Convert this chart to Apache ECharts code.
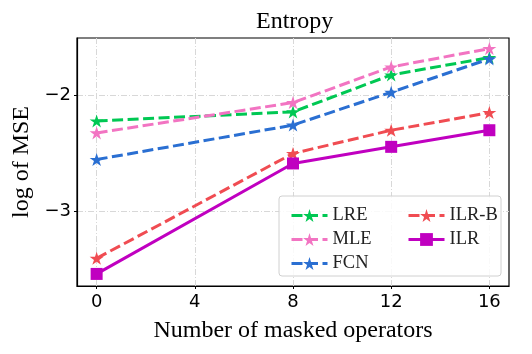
<!DOCTYPE html>
<html>
<head>
<meta charset="utf-8">
<script src="https://cdn.jsdelivr.net/npm/echarts@6/dist/echarts.min.js"></script>
<style>
  html, body { margin: 0; padding: 0; background: #fff; }
  #chart { width: 532px; height: 354px; }
</style>
</head>
<body>
<div id="chart"></div>
<script>
// masked operators on x, log(MSE) on y
const operators = [0, 8, 12, 16];
const xTicks = [0, 4, 8, 12, 16];
const yTicks = [-3, -2];

const lre = [-2.224, -2.146, -1.828, -1.678];
const mle = [-2.327, -2.066, -1.759, -1.601];
const fcn = [-2.556, -2.26, -1.977, -1.69];
const ilrB = [-3.407, -2.504, -2.304, -2.152];
const ilr = [-3.541, -2.59, -2.447, -2.304];

const star = "path://M0,-1L0.2245,-0.309L0.951,-0.309L0.363,0.118L0.588,0.809L0,0.382L-0.588,0.809L-0.363,0.118L-0.951,-0.309L-0.2245,-0.309Z";

function pairs(ys) {
  return operators.map((x, i) => [x, ys[i]]);
}

function makeSeries(name, ys, color, symbol, dashed) {
  return {
    name: name,
    type: "line",
    data: pairs(ys),
    symbol: symbol,
    symbolSize: symbol === "rect" ? 12 : [14, 13],
    color: color,
    itemStyle: { color: color },
    lineStyle: { color: color, width: 3, type: dashed ? [11, 4.5] : "solid" },
    emphasis: { disabled: true },
    animation: false
  };
}

const minus = v => String(v).replace("-", "\u2212");

const legendBase = {
  orient: "vertical",
  top: 201,
  itemWidth: 36, itemHeight: 16, itemGap: 5,
  lineStyle: { width: 3 },
  textStyle: { fontFamily: "Liberation Serif", fontSize: 18.5, color: "#222", lineHeight: 18 },
  z: 60
};

const chart = echarts.init(document.getElementById("chart"));
chart.setOption({
  backgroundColor: "#fff",
  animation: false,
  title: {
    text: "Entropy",
    left: 251,
    top: 5,
    textStyle: { fontFamily: "Liberation Serif", fontWeight: "normal", fontSize: 24, color: "#000" }
  },
  grid: {
    left: 77, right: 23, top: 38, bottom: 68,
    show: true, borderColor: "#000", borderWidth: 1.2
  },
  xAxis: {
    type: "value",
    min: -0.8, max: 16.8,
    name: "Number of masked operators",
    nameLocation: "middle",
    nameGap: 33,
    nameTextStyle: { fontFamily: "Liberation Serif", fontSize: 24, color: "#000" },
    axisLine: { show: true, onZero: false, lineStyle: { color: "#000", width: 1.2 } },
    axisTick: { show: true, customValues: xTicks, length: 3, lineStyle: { color: "#000" } },
    axisLabel: { customValues: xTicks, fontFamily: "DejaVu Sans", fontSize: 18, color: "#000", margin: 7 },
    splitLine: { show: true, customValues: xTicks, lineStyle: { color: "#d8d8d8", width: 1, type: [6, 2, 1, 2] } }
  },
  yAxis: {
    type: "value",
    min: -3.645, max: -1.51,
    name: "log of MSE",
    nameLocation: "middle",
    nameRotate: 90,
    nameGap: 42,
    nameTextStyle: { fontFamily: "Liberation Serif", fontSize: 24, color: "#000" },
    axisLine: { show: true, onZero: false, lineStyle: { color: "#000", width: 1.2 } },
    axisTick: { show: true, customValues: yTicks, length: 3, lineStyle: { color: "#000" } },
    axisLabel: { customValues: yTicks, formatter: minus, fontFamily: "DejaVu Sans", fontSize: 18, color: "#000", margin: 6 },
    splitLine: { show: true, customValues: yTicks, lineStyle: { color: "#d8d8d8", width: 1, type: [6, 2, 1, 2] } }
  },
  graphic: [{
    type: "rect",
    shape: { x: 279, y: 196, width: 222, height: 80, r: 3 },
    style: { fill: "rgba(255,255,255,0.85)", stroke: "#d0d0d0", lineWidth: 1 },
    z: 50
  }],
  legend: [
    Object.assign({ data: ["LRE", "MLE", "FCN"], left: 285 }, legendBase),
    Object.assign({ data: ["ILR-B", "ILR"], left: 402 }, legendBase)
  ],
  series: [
    makeSeries("LRE", lre, "#00c853", star, true),
    makeSeries("MLE", mle, "#f274c2", star, true),
    makeSeries("FCN", fcn, "#2a6fd2", star, true),
    makeSeries("ILR-B", ilrB, "#f04c52", star, true),
    makeSeries("ILR", ilr, "#c000c0", "rect", false)
  ]
});
</script>
</body>
</html>
